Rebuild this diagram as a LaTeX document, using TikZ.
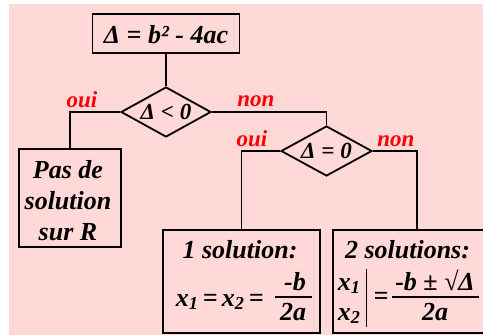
\documentclass[tikz,border=0pt]{standalone}
\usepackage{fontspec}
\usepackage{amsmath}
\usetikzlibrary{shapes.geometric}
\setmainfont{Liberation Serif}
\definecolor{bgpink}{RGB}{255,216,216}
\definecolor{lblred}{RGB}{255,0,0}
\begin{document}
\begin{tikzpicture}[x=1pt,y=-1pt,line width=1.8pt,
  txt/.style={font=\bfseries\itshape\fontsize{26}{31}\selectfont, inner sep=0pt, align=center},
  ptxt/.style={font=\bfseries\itshape\fontsize{26}{31}\selectfont, inner sep=0pt, align=center},
  dtxt/.style={font=\bfseries\itshape\fontsize{23}{28}\selectfont, inner sep=0pt},
  lbl/.style={font=\bfseries\itshape\fontsize{23}{28}\selectfont, inner sep=0pt, text=lblred},
  box/.style={draw, rectangle, inner sep=0pt},
  dia/.style={draw, diamond, inner sep=0pt, aspect=1.8},
  fbar/.style={line width=1.8pt}]
\path[use as bounding box] (0,0) rectangle (483,335);
\clip (0,0) rectangle (483,335);
\fill[bgpink] (9,4) rectangle (483,335);
% boxes
\node[box, minimum width=147, minimum height=39] (top) at (166,33.5) {};
\node[txt] (toptxt) at (166,34.5) {Δ = b² - 4ac};
\node[dia, minimum width=90, minimum height=50] (d1) at (166,112) {};
\node[dtxt] (d1txt) at (d1.center) {Δ < 0};
\node[dia, minimum width=91, minimum height=50] (d2) at (326.5,151) {};
\node[dtxt] (d2txt) at (d2.center) {Δ = 0};
\node[box, minimum width=102, minimum height=98] (pas) at (70,198) {};
\node[ptxt] (pastxt) at (68,201) {Pas de\\solution\\sur R};
\node[box, minimum width=157, minimum height=103] (one) at (241.5,281.5) {};
\node[box, minimum width=168, minimum height=103] (two) at (417,281.5) {};
% one solution
\node[txt, anchor=base] (onet) at (240,258) {1 solution:};
\node[txt, anchor=base west] (onel) at (175,306) {x$_{\text{1}}$\,=\,x$_{\text{2}}$\,=};
\node[txt, anchor=base] (onen) at (295,290) {-b};
\node[txt, anchor=base] (oned) at (293,320) {2a};
\draw[fbar] (275,297) -- (312,297);
% two solutions
\node[txt, anchor=base] (twot) at (407.5,258) {2 solutions:};
\node[txt, anchor=base west] (x1) at (337,290) {x$_{\text{1}}$};
\node[txt, anchor=base west] (x2) at (337,320) {x$_{\text{2}}$};
\draw[line width=1pt] (366,269) -- (366,327);
\node[txt] (eq) at (381,298) {=};
\node[txt, anchor=base] (twon) at (435,290) {-b ± √Δ};
\node[txt, anchor=base] (twod) at (435,320) {2a};
\draw[fbar] (392,297) -- (479,297);
% connectors
\draw (top.south) -- (d1.north);
\draw (d1.west) -| (pas.north);
\draw (d1.east) -| (d2.north);
\draw (d2.west) -| (one.north);
\draw (d2.east) -| (two.north);
% labels
\node[lbl] (l1) at (82,100) {oui};
\node[lbl] (l2) at (256,101) {non};
\node[lbl] (l3) at (252,139) {oui};
\node[lbl] (l4) at (396,141) {non};
\end{tikzpicture}
\end{document}
